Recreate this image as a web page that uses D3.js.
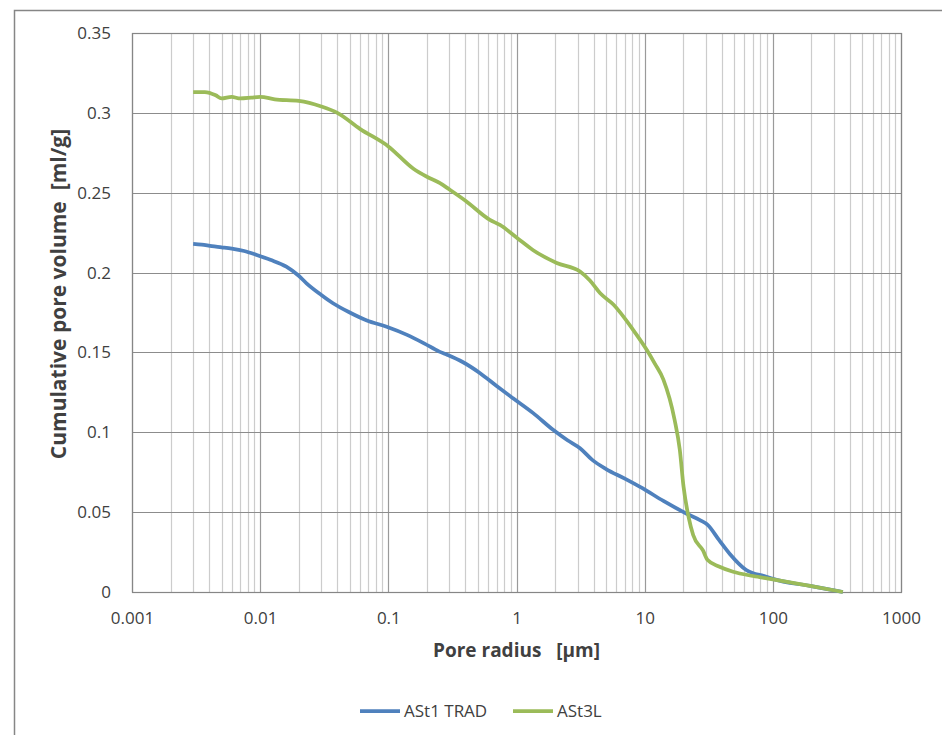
<!DOCTYPE html>
<html>
<head>
<meta charset="utf-8">
<script src="https://cdn.jsdelivr.net/npm/d3@7"></script>
<style>
  body { margin: 0; background: #fff; }
  text { font-family: "Open Sans", "Noto Sans", sans-serif; fill: #404040; }
</style>
</head>
<body>
<div id="chart-area"></div>
<script>
// Data: pore radius [µm] and cumulative volume [ml/g]
let tradRadius = [0.003, 0.0035, 0.0042, 0.005, 0.006, 0.0075, 0.0094, 0.012, 0.016, 0.02, 0.023, 0.03,
  0.037, 0.05, 0.068, 0.097, 0.14, 0.19, 0.25, 0.29, 0.38, 0.52, 0.7, 0.94, 1.35, 1.94, 2.5, 3.13,
  3.9, 5, 7, 9.6, 14, 21.3, 27, 31, 38, 46, 62, 89, 100, 195, 352];
let tradVolume = [0.218, 0.2175, 0.2165, 0.2158, 0.215, 0.2135, 0.211, 0.208, 0.2037, 0.198, 0.1933, 0.186,
  0.1808, 0.175, 0.17, 0.1661, 0.161, 0.1557, 0.1505, 0.1484, 0.144, 0.137, 0.129, 0.1213, 0.112, 0.1014, 0.095, 0.09,
  0.0827, 0.077, 0.071, 0.065, 0.057, 0.049, 0.045, 0.042, 0.0326, 0.024, 0.0138, 0.0096, 0.0082, 0.0038, 0];

let l3Radius = [0.003, 0.0037, 0.0045, 0.005, 0.006, 0.007, 0.0085, 0.01, 0.013, 0.02, 0.03, 0.04, 0.06,
  0.1, 0.157, 0.2, 0.253, 0.3, 0.4, 0.62, 0.743, 1, 1.35, 2.06, 3.13, 3.74, 4.5, 5.7, 8.15, 10.4, 12, 14,
  17.1, 18.8, 20.1, 22, 23.9, 28.5, 31, 38, 49, 70, 100, 195, 352];
let l3Volume = [0.313, 0.313, 0.311, 0.309, 0.31, 0.309, 0.3095, 0.31, 0.3085, 0.3075, 0.304, 0.3, 0.29,
  0.279, 0.265, 0.26, 0.256, 0.252, 0.245, 0.233, 0.2298, 0.222, 0.214, 0.206, 0.2006, 0.195, 0.187, 0.18, 0.164, 0.1515, 0.143, 0.133,
  0.108, 0.089, 0.066, 0.047, 0.0357, 0.026, 0.02, 0.016, 0.0127, 0.01, 0.0079, 0.0038, 0];

let seriesNames = ["ASt1 TRAD", "ASt3L"];
let seriesColors = ["#4f81bd", "#9bbb59"];
let xTickValues = [0.001, 0.01, 0.1, 1, 10, 100, 1000];
let yTickValues = [0, 0.05, 0.1, 0.15, 0.2, 0.25, 0.3, 0.35];

let series = [
  { name: seriesNames[0], color: seriesColors[0], values: tradRadius.map((r, i) => ({ r: r, v: tradVolume[i] })) },
  { name: seriesNames[1], color: seriesColors[1], values: l3Radius.map((r, i) => ({ r: r, v: l3Volume[i] })) }
];

// SVG container
let margin = { top: 33, right: 41, bottom: 143, left: 132 };
let width = 942 - margin.left - margin.right,
  height = 735 - margin.top - margin.bottom;

let root = d3.select("#chart-area")
  .append("svg")
  .attr("width", 942)
  .attr("height", 735);

// outer chart border (only left/top visible in the frame)
root.append("rect")
  .attr("x", 14.5).attr("y", 10.5)
  .attr("width", 1000).attr("height", 1000)
  .attr("fill", "none")
  .attr("stroke", "#868686")
  .attr("stroke-width", 1.5);

let svg = root.append("g")
  .attr("transform", "translate(" + margin.left + "," + margin.top + ")");

// Scales
let x = d3.scaleLog().domain([0.001, 1000]).range([0, width]);
let y = d3.scaleLinear().domain([0, 0.35]).range([height, 0]);

// minor vertical gridlines
let minor = [];
for (let e = -3; e < 3; e++) {
  for (let k = 2; k <= 9; k++) minor.push(k * Math.pow(10, e));
}
svg.append("g").selectAll("line")
  .data(minor)
  .join("line")
  .attr("x1", d => Math.round(x(d)) + 0.5)
  .attr("x2", d => Math.round(x(d)) + 0.5)
  .attr("y1", 0).attr("y2", height)
  .attr("stroke", "#cccccc")
  .attr("stroke-width", 1.2);

// major vertical gridlines
svg.append("g").selectAll("line")
  .data(xTickValues)
  .join("line")
  .attr("x1", d => Math.round(x(d)) + 0.5)
  .attr("x2", d => Math.round(x(d)) + 0.5)
  .attr("y1", 0).attr("y2", height)
  .attr("stroke", "#9a9a9a")
  .attr("stroke-width", 1.2);

// horizontal gridlines
svg.append("g").selectAll("line")
  .data(yTickValues)
  .join("line")
  .attr("x1", 0).attr("x2", width)
  .attr("y1", d => Math.round(y(d)) + 0.5)
  .attr("y2", d => Math.round(y(d)) + 0.5)
  .attr("stroke", "#8c8c8c")
  .attr("stroke-width", 1.2);

// plot frame
svg.append("rect")
  .attr("x", 0.5).attr("y", 0.5)
  .attr("width", width).attr("height", height)
  .attr("fill", "none")
  .attr("stroke", "#868686")
  .attr("stroke-width", 1.2);

// Axes
let xAxis = d3.axisBottom(x)
  .tickValues(xTickValues)
  .tickFormat(d => String(d))
  .tickSize(0)
  .tickPadding(20);
let yAxis = d3.axisLeft(y)
  .tickValues(yTickValues)
  .tickFormat(d => String(+d.toFixed(2)))
  .tickSize(0)
  .tickPadding(21);

svg.append("g")
  .attr("class", "axis x-axis")
  .attr("transform", "translate(0," + height + ")")
  .call(xAxis)
  .call(g => g.select(".domain").remove())
  .selectAll("text")
  .style("font-size", "17px")
  .attr("fill", "#404040");

svg.append("g")
  .attr("class", "axis y-axis")
  .call(yAxis)
  .call(g => g.select(".domain").remove())
  .selectAll("text")
  .style("font-size", "17px")
  .attr("fill", "#404040");

// Lines
let line = d3.line()
  .x(d => x(d.r))
  .y(d => y(d.v))
  .curve(d3.curveMonotoneX);

svg.selectAll(".series")
  .data(series)
  .join("path")
  .attr("class", "series")
  .attr("d", d => line(d.values))
  .attr("fill", "none")
  .attr("stroke", d => d.color)
  .attr("stroke-width", 3.75)
  .attr("stroke-linejoin", "round");

// Axis labels
root.append("text")
  .attr("x", margin.left + width / 2)
  .attr("y", 657)
  .attr("text-anchor", "middle")
  .style("font-size", "19px")
  .style("font-weight", "bold")
  .attr("fill", "#000")
  .text("Pore radius\u00a0\u00a0 [\u03bcm]");

root.append("text")
  .attr("transform", "translate(66,294) rotate(-90)")
  .attr("text-anchor", "middle")
  .style("font-size", "21px")
  .style("font-weight", "bold")
  .attr("fill", "#000")
  .text("Cumulative pore volume\u00a0\u00a0[ml/g]");

// Legend
let legendX = [360, 513];
let legend = root.selectAll(".legend")
  .data(series)
  .join("g")
  .attr("class", "legend")
  .attr("transform", (d, i) => "translate(" + legendX[i] + ",711)");

legend.append("line")
  .attr("x1", 0).attr("x2", 40)
  .attr("stroke", d => d.color)
  .attr("stroke-width", 3.75);

legend.append("text")
  .attr("x", 44)
  .attr("y", 6)
  .style("font-size", "17px")
  .attr("fill", "#404040")
  .text(d => d.name);
</script>
</body>
</html>
